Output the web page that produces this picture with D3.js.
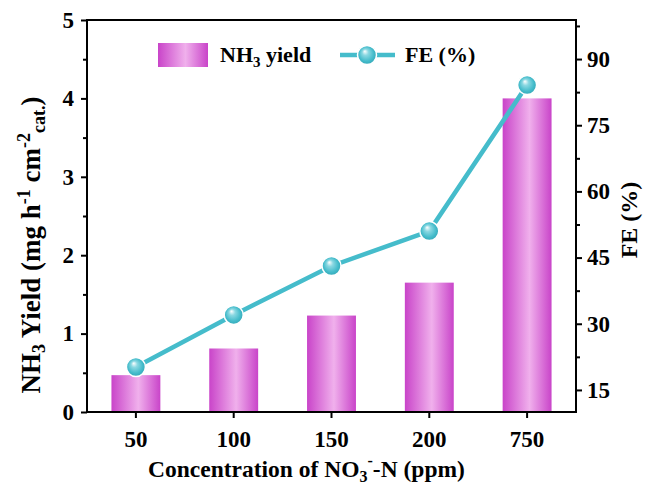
<!DOCTYPE html>
<html>
<head>
<meta charset="utf-8">
<script src="https://cdn.jsdelivr.net/npm/d3@7"></script>
<style>
  body { margin: 0; background: #fff; }
  svg { font-family: "Liberation Serif", "Times New Roman", serif; font-weight: bold; }
</style>
</head>
<body>
<svg id="chart" width="655" height="491"></svg>
<script>
  // data
  const categories = ["50", "100", "150", "200", "750"];
  const nh3Yield = [0.47, 0.81, 1.23, 1.65, 4.0];
  const feValues = [20.2, 32.0, 43.1, 51.0, 84.1];
  const leftTicks = [0, 1, 2, 3, 4, 5];
  const rightTicks = [15, 30, 45, 60, 75, 90];

  (() => {
    const barColor = "#c944c9";
    const lineColor = "#45bccb";

    const svg = d3.select("#chart");
    const m = { left: 87, right: 576, top: 20, bottom: 412 };

    const x = d3.scaleBand().domain(categories).range([m.left, m.right]).paddingInner(0.5).paddingOuter(0.25);
    const yL = d3.scaleLinear().domain([0, 5]).range([m.bottom, m.top]);
    const yR = d3.scaleLinear().domain([10, 98.85]).range([m.bottom, m.top]);

    const defs = svg.append("defs");
    const bg = defs.append("linearGradient").attr("id", "barGrad").attr("x1", "0%").attr("x2", "100%");
    bg.append("stop").attr("offset", "0%").attr("stop-color", barColor);
    bg.append("stop").attr("offset", "55%").attr("stop-color", "#f0b0ec");
    bg.append("stop").attr("offset", "100%").attr("stop-color", barColor);

    const rg = defs.append("radialGradient").attr("id", "dotGrad")
      .attr("cx", "50%").attr("cy", "50%").attr("r", "55%").attr("fx", "38%").attr("fy", "30%");
    rg.append("stop").attr("offset", "0%").attr("stop-color", "#ffffff");
    rg.append("stop").attr("offset", "30%").attr("stop-color", "#8ad8e2");
    rg.append("stop").attr("offset", "70%").attr("stop-color", "#45bccb");
    rg.append("stop").attr("offset", "100%").attr("stop-color", "#2fa3b3");

    // bars
    svg.selectAll("rect.bar")
      .data(nh3Yield)
      .join("rect")
      .attr("class", "bar")
      .attr("x", (d, i) => x(categories[i]))
      .attr("y", (d) => yL(d))
      .attr("width", x.bandwidth())
      .attr("height", (d) => yL(0) - yL(d))
      .attr("fill", "url(#barGrad)");

    // FE line + markers
    const cx = (i) => x(categories[i]) + x.bandwidth() / 2;
    const line = d3.line().x((d, i) => cx(i)).y((d) => yR(d));
    svg.append("path")
      .datum(feValues)
      .attr("fill", "none")
      .attr("stroke", lineColor)
      .attr("stroke-width", 4.5)
      .attr("d", line);

    svg.selectAll("circle.fe")
      .data(feValues)
      .join("circle")
      .attr("class", "fe")
      .attr("cx", (d, i) => cx(i))
      .attr("cy", (d) => yR(d))
      .attr("r", 9.5)
      .attr("fill", "url(#dotGrad)")
      .attr("stroke", "#fff")
      .attr("stroke-width", 1.5);

    // axes
    const axisStyle = (g) => {
      g.select(".domain").remove();
      g.selectAll("line").attr("stroke", "#000").attr("stroke-width", 2);
      g.selectAll("text").attr("font-size", 23).attr("fill", "#000").attr("font-family", "Liberation Serif").attr("font-weight", "bold");
    };

    svg.append("g")
      .attr("transform", `translate(${m.left},0)`)
      .call(d3.axisLeft(yL).tickValues(d3.range(0.5, 5, 1)).tickSize(4).tickFormat(""))
      .call(axisStyle);
    svg.append("g")
      .attr("transform", `translate(${m.left},0)`)
      .call(d3.axisLeft(yL).tickValues(leftTicks).tickSize(6).tickPadding(7).tickFormat(d3.format("d")))
      .call(axisStyle);

    svg.append("g")
      .attr("transform", `translate(${m.right},0)`)
      .call(d3.axisRight(yR).tickValues(d3.range(22.5, 98, 15)).tickSize(4).tickFormat(""))
      .call(axisStyle);
    svg.append("g")
      .attr("transform", `translate(${m.right},0)`)
      .call(d3.axisRight(yR).tickValues(rightTicks).tickSize(6).tickPadding(5).tickFormat(d3.format("d")))
      .call(axisStyle);

    svg.append("g")
      .attr("transform", `translate(0,${m.bottom})`)
      .call(d3.axisBottom(x).tickSize(6).tickPadding(13))
      .call(axisStyle);

    // frame
    svg.append("rect")
      .attr("x", m.left).attr("y", m.top)
      .attr("width", m.right - m.left).attr("height", m.bottom - m.top)
      .attr("fill", "none").attr("stroke", "#000").attr("stroke-width", 2);

    // axis titles
    const xt = svg.append("text")
      .attr("x", 148).attr("y", 477)
      .attr("font-size", 23.5);
    xt.append("tspan").text("Concentration of NO");
    xt.append("tspan").attr("font-size", 16).attr("dy", 5).text("3");
    xt.append("tspan").attr("font-size", 16).attr("dx", 0).attr("dy", -16).text("-");
    xt.append("tspan").attr("dy", 11).text("-N (ppm)");

    const yt = svg.append("text")
      .attr("transform", "translate(40,245) rotate(-90)")
      .attr("text-anchor", "middle").attr("font-size", 27);
    yt.append("tspan").text("NH");
    yt.append("tspan").attr("font-size", 18).attr("dy", 5).text("3");
    yt.append("tspan").attr("dy", -5).text(" Yield (mg h");
    yt.append("tspan").attr("font-size", 18).attr("dy", -10).text("-1");
    yt.append("tspan").attr("dy", 10).text(" cm");
    yt.append("tspan").attr("font-size", 18).attr("dy", -10).text("-2");
    yt.append("tspan").attr("font-size", 18).attr("dy", 15).text("cat.");
    yt.append("tspan").attr("dy", -5).text(")");

    svg.append("text")
      .attr("transform", "translate(637,220) rotate(-90)")
      .attr("text-anchor", "middle").attr("font-size", 24)
      .text("FE (%)");

    // legend
    const lg = svg.append("g");
    lg.append("rect").attr("x", 158).attr("y", 43).attr("width", 50).attr("height", 24).attr("fill", "url(#barGrad)");
    const lt = lg.append("text").attr("x", 220).attr("y", 62).attr("font-size", 22);
    lt.append("tspan").text("NH");
    lt.append("tspan").attr("font-size", 15).attr("dy", 5).text("3");
    lt.append("tspan").attr("dy", -5).text(" yield");
    lg.append("line").attr("x1", 340).attr("x2", 395).attr("y1", 55).attr("y2", 55)
      .attr("stroke", lineColor).attr("stroke-width", 4.5);
    lg.append("circle").attr("cx", 367).attr("cy", 55).attr("r", 9.5)
      .attr("fill", "url(#dotGrad)").attr("stroke", "#fff").attr("stroke-width", 1.5);
    lg.append("text").attr("x", 405).attr("y", 62).attr("font-size", 22).text("FE (%)");
  })();
</script>
</body>
</html>
